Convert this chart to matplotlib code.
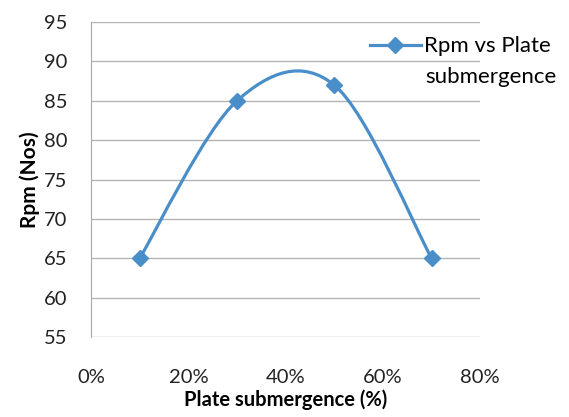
import numpy as np
import matplotlib.pyplot as plt
from matplotlib.path import Path
from matplotlib.patches import PathPatch
from matplotlib.lines import Line2D

submergence = [0.10, 0.30, 0.50, 0.70]
rpm = [65, 85, 87, 65]
xticks = [0.0, 0.2, 0.4, 0.6, 0.8]
xticklabels = ['0%', '20%', '40%', '60%', '80%']
yticks = [55, 60, 65, 70, 75, 80, 85, 90, 95]
series_name = ['Rpm vs Plate', 'submergence']

plt.rcParams['font.family'] = ['Lato', 'DejaVu Sans']
col = '#4a8ec9'

fig = plt.figure(figsize=(5.69, 4.17), dpi=100)
ax = fig.add_axes([0.160, 0.192, 0.684, 0.755])

# excel-style smoothed line (bezier through the points)
p = np.column_stack([submergence, rpm]).astype(float)
n = len(p)
verts = [p[0]]
codes = [Path.MOVETO]
for i in range(n - 1):
    prev = p[i - 1] if i > 0 else p[i]
    nxt = p[i + 2] if i + 2 < n else p[i + 1]
    c1 = p[i] + (p[i + 1] - prev) / 6
    c2 = p[i + 1] - (nxt - p[i]) / 6
    verts += [c1, c2, p[i + 1]]
    codes += [Path.CURVE4] * 3
ax.add_patch(PathPatch(Path(verts, codes), fill=False, edgecolor=col, lw=2.3, zorder=3))
ax.plot(submergence, rpm, 'D', color=col, markersize=8.5, zorder=4)

ax.set_xlim(0, 0.8)
ax.set_ylim(55, 95)
ax.set_xticks(xticks)
ax.set_xticklabels(xticklabels)
ax.set_yticks(yticks)
ax.yaxis.grid(True, color='#b4b4b4', lw=1)
ax.set_axisbelow(True)
for s in ['top', 'right', 'bottom']:
    ax.spines[s].set_visible(False)
ax.spines['left'].set_color('#a8a8a8')
ax.tick_params(axis='both', length=0, labelsize=14.5, colors='#222222')
ax.tick_params(axis='x', pad=23)
ax.tick_params(axis='y', pad=17)

ax.set_xlabel('Plate submergence (%)', fontsize=14.5, fontweight='bold', labelpad=2.5)
ax.set_ylabel('Rpm (Nos)', fontsize=15, fontweight='bold', labelpad=3)

h = Line2D([], [], color=col, lw=2.3, marker='D', markersize=8)
fig.legend([h], [series_name[0]], loc='upper left', bbox_to_anchor=(0.650, 0.913),
           frameon=False, fontsize=16, handlelength=2.3, handletextpad=0.15,
           borderaxespad=0, borderpad=0)
fig.text(0.747, 0.815, series_name[1], fontsize=16, va='center', ha='left', color='black')

fig.savefig('out.png', dpi=100)
